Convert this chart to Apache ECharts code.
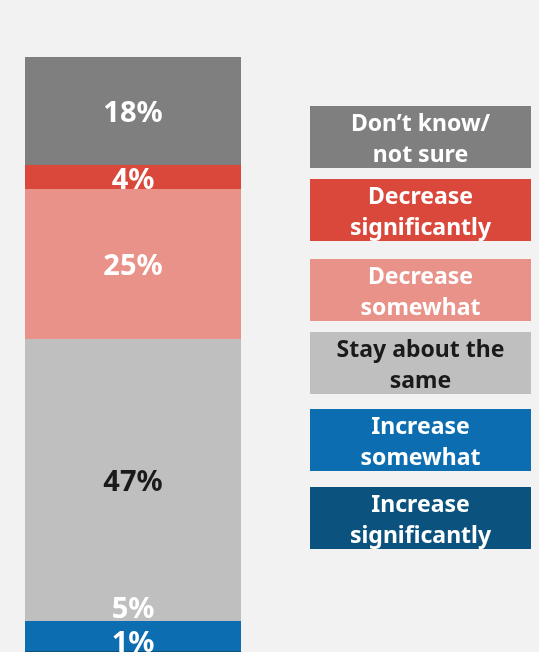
<!DOCTYPE html>
<html><head><meta charset="utf-8">
<script src="https://cdn.jsdelivr.net/npm/echarts@6/dist/echarts.min.js"></script>
<style>html,body{margin:0;padding:0;background:#f2f2f2;overflow:hidden;height:652px;}#c{width:539px;height:657px;}</style>
</head><body><div id="c"></div>
<script>
// Stack order from bottom to top
var categories = ['Increase significantly', 'Increase somewhat', 'Stay about the same', 'Decrease somewhat', 'Decrease significantly', 'Don\u2019t know/ not sure'];
var values = [1, 5, 47, 25, 4, 18];
var colors = ['#0b527e', '#0c6eb0', '#bfbfbf', '#e8928a', '#d9483b', '#7f7f7f'];
var labelColors = ['#ffffff', '#ffffff', '#1a1a1a', '#ffffff', '#ffffff', '#ffffff'];
var legendLines = [['Increase', 'significantly'], ['Increase', 'somewhat'], ['Stay about the', 'same'], ['Decrease', 'somewhat'], ['Decrease', 'significantly'], ['Don\u2019t know/', 'not sure']];

var FONT = 'Noto Sans';
var labelOffsets = [[0, -10], [0, -26], [0, 3], [0, 3], [0, 4], [0, 3]];
var series = categories.map(function (name, i) {
  return {
    name: name, type: 'bar', stack: 'all', barWidth: 216,
    itemStyle: { color: colors[i] },
    label: {
      show: true, position: 'inside', formatter: '{c}%',
      color: labelColors[i], fontFamily: FONT, fontWeight: 'bold', fontSize: 29,
      offset: labelOffsets[i]
    },
    data: [values[i]]
  };
});

// legend boxes (top to bottom)
var legendTops = [487, 409, 332, 259, 179, 106];
var graphic = [];
categories.forEach(function (name, i) {
  graphic.push({
    type: 'group', left: 310, top: legendTops[i],
    children: [
      { type: 'rect', shape: { x: 0, y: 0, width: 221, height: 62 }, style: { fill: colors[i] } },
      { type: 'text', style: { x: 110.5, y: 34, text: legendLines[i].join('\n'), fill: labelColors[i],
        font: 'bold 23px "' + FONT + '"', align: 'center', verticalAlign: 'middle', lineHeight: 31 } }
    ]
  });
});

var chart = echarts.init(document.getElementById('c'));
chart.setOption({
  backgroundColor: '#f2f2f2',
  animation: false,
  grid: { left: 25, top: 57, width: 216, height: 600 },
  xAxis: { type: 'category', data: [''], show: false },
  yAxis: { type: 'value', min: 0, max: 100, show: false },
  series: series,
  graphic: graphic
});
</script></body></html>
